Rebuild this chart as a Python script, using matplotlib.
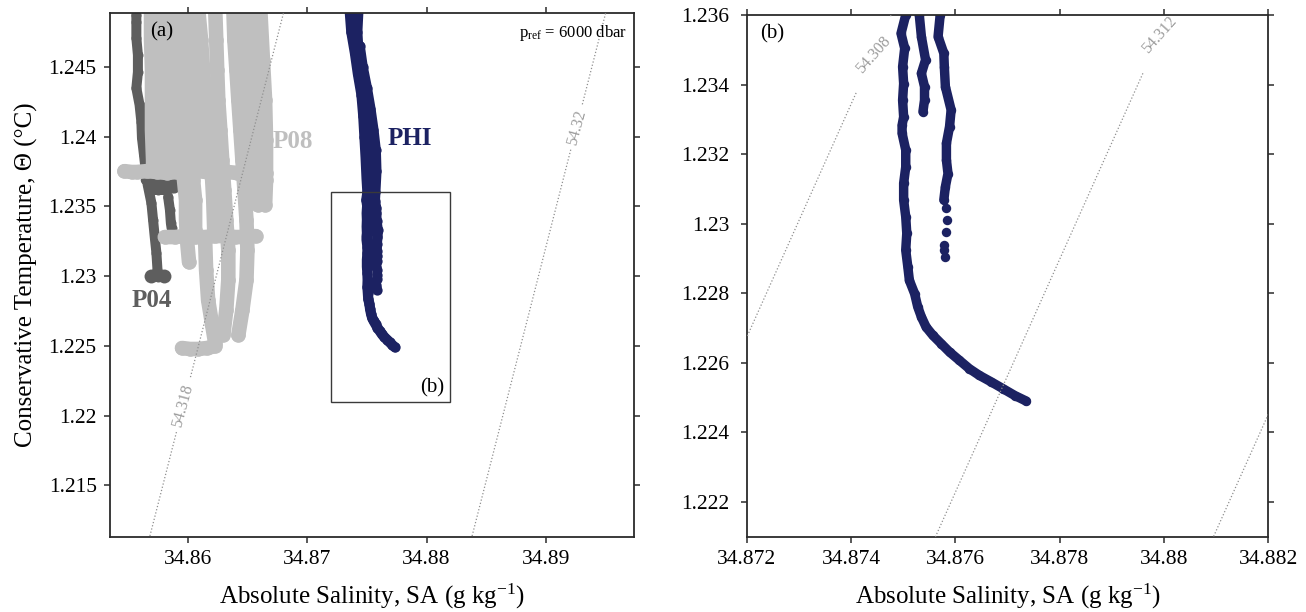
import numpy as np
import matplotlib
matplotlib.use('Agg')
import matplotlib.pyplot as plt
from matplotlib.patches import Rectangle
from matplotlib.ticker import FuncFormatter

plt.rcParams['font.family'] = ['Liberation Serif', 'DejaVu Serif']
plt.rcParams['mathtext.fontset'] = 'custom'
plt.rcParams['mathtext.rm'] = 'Liberation Serif'
plt.rcParams['mathtext.it'] = 'Liberation Serif:italic'
plt.rcParams['mathtext.bf'] = 'Liberation Serif:bold'

# ---------------- axis settings ----------------
A_XLIM = (34.85349, 34.89741)
A_YLIM = (1.21133, 1.24883)
A_XTICKS = [34.86, 34.87, 34.88, 34.89]
A_YTICKS = [1.215, 1.22, 1.225, 1.23, 1.235, 1.24, 1.245]
B_XLIM = (34.872, 34.882)
B_YLIM = (1.221, 1.236)
B_XTICKS = [34.872, 34.874, 34.876, 34.878, 34.88, 34.882]
B_YTICKS = [1.222, 1.224, 1.226, 1.228, 1.23, 1.232, 1.234, 1.236]

# ---------------- isopycnals (linearised sigma_6 around a reference point) ----------------
ISO_A_LEVELS = [54.318, 54.320]
ISO_A_REF = (54.318, 34.86484, 1.2382, 0.07413, 0.02213)   # sigma0, SA0, CT0, beta, alpha
ISO_A_LABEL_POS = [(34.85943, 1.22077), (34.89240, 1.24070)]
ISO_B_LEVELS = [54.308, 54.312, 54.316]
ISO_B_REF = (54.312, 34.87562, 1.2210, 0.7505, 0.2240)
ISO_B_LABEL_POS = [(34.87445, 1.2348), (34.87998, 1.23528)]

# ---------------- P04 (dark grey) ----------------
P04_A_SA = [34.85570, 34.85570, 34.85570, 34.85583, 34.85583, 34.85570, 34.85597, 34.85612, 34.85617,
            34.85634, 34.85648, 34.85665, 34.85696, 34.85710, 34.85724, 34.85738, 34.85747, 34.85749]
P04_A_CT = [1.24870, 1.24820, 1.24706, 1.24584, 1.24462, 1.24347, 1.24226, 1.24104, 1.23989,
            1.23867, 1.23760, 1.23653, 1.23524, 1.23402, 1.23280, 1.23165, 1.23044, 1.22994]
P04_B_SA = [34.85648, 34.85724, 34.85808, 34.85893, 34.85935]
P04_B_CT = [1.23688, 1.23688, 1.23688, 1.23681, 1.23667]
P04_C_SA = [34.85682, 34.85749, 34.85817, 34.85885]
P04_C_CT = [1.23617, 1.23617, 1.23617, 1.23631]
P04_D_SA = [34.85836, 34.85851, 34.85859, 34.85865]
P04_D_CT = [1.23567, 1.23474, 1.23380, 1.23344]
P04_E_SA = [34.85690, 34.85800]
P04_E_CT = [1.23001, 1.23001]

# ---------------- P08 (light grey) ----------------
P08_CT_TOP = [1.2492, 1.24691, 1.24476, 1.24261, 1.24047, 1.23832, 1.23775]
P08_C1_SA = [34.85693, 34.85693, 34.85701, 34.85701, 34.85701, 34.85710, 34.85710]
P08_C2_SA = [34.85751, 34.85751, 34.85760, 34.85760, 34.85768, 34.85776, 34.85776]
P08_C3_SA = [34.85810, 34.85810, 34.85818, 34.85818, 34.85827, 34.85835, 34.85843]
P08_C4_SA = [34.85869, 34.85869, 34.85877, 34.85885, 34.85894, 34.85902, 34.85910]
P08_C5_SA = [34.85876, 34.85893, 34.85901, 34.85918, 34.85935, 34.85952, 34.85969, 34.85986, 34.85986,
             34.85994, 34.86011]
P08_C5_CT = [1.2492, 1.24691, 1.24476, 1.24261, 1.24047, 1.23832, 1.23688, 1.23545, 1.23402, 1.23259, 1.23101]
P08_C6_SA = [34.85935, 34.85952, 34.85969, 34.85986, 34.86011, 34.86028, 34.86045, 34.86062, 34.86062]
P08_C6_CT = [1.2492, 1.24691, 1.24476, 1.24261, 1.24047, 1.23832, 1.23688, 1.23545, 1.23330]
P08_C7_SA = [34.85986, 34.86011, 34.86028, 34.86053, 34.86078, 34.86095]
P08_C7_CT = [1.2492, 1.24691, 1.24476, 1.24261, 1.24047, 1.23832]
P08_S2_SA = [34.86087, 34.86112, 34.86129, 34.86146, 34.86171, 34.86188, 34.86205, 34.86214, 34.86222]
P08_S2_CT = [1.2492, 1.24691, 1.24476, 1.24261, 1.24047, 1.23832, 1.23688, 1.23545, 1.23330]
P08_S3_SA = [34.86230, 34.86239, 34.86247, 34.86256, 34.86273, 34.86289, 34.86306, 34.86323, 34.86340,
             34.86340, 34.86323, 34.86298]
P08_S3_CT = [1.2492, 1.24691, 1.24476, 1.24261, 1.24047, 1.23832, 1.23617, 1.23402, 1.23187,
             1.22972, 1.22757, 1.22578]
P08_S4_SA = [34.86382, 34.86391, 34.86408, 34.86424, 34.86441, 34.86458, 34.86475, 34.86492, 34.86500,
             34.86492, 34.86458, 34.86424]
P08_S4_CT = [1.2492, 1.24691, 1.24476, 1.24261, 1.24047, 1.23832, 1.23617, 1.23402, 1.23187,
             1.22972, 1.22757, 1.22578]
P08_S5_SA = [34.86497, 34.86505, 34.86522, 34.86538, 34.86555, 34.86572, 34.86589, 34.86589]
P08_S5_CT = [1.2492, 1.24691, 1.24476, 1.24261, 1.24047, 1.23832, 1.23653, 1.23509]
P08_S6_SA = [34.86607, 34.86630, 34.86648, 34.86656, 34.86656, 34.86648]
P08_S6_CT = [1.2492, 1.24548, 1.24261, 1.23975, 1.23688, 1.23509]
P08_S7_SA = [34.86146, 34.86154, 34.86171, 34.86205, 34.86230]
P08_S7_CT = [1.23259, 1.23044, 1.22829, 1.22650, 1.22521]
P08_BAND1_SA = [34.85470, 34.85530, 34.85572, 34.85657, 34.85741, 34.85825, 34.85910, 34.85994,
                34.86078, 34.86163, 34.86247, 34.86332, 34.86416, 34.86500, 34.86585, 34.86655]
P08_BAND1_CT = [1.23752, 1.23746, 1.23746, 1.23752, 1.23746, 1.23739, 1.23746, 1.23746,
                1.23752, 1.23746, 1.23746, 1.23746, 1.23739, 1.23746, 1.23746, 1.23739]
P08_BAND2_SA = [34.85808, 34.85893, 34.85977, 34.86062, 34.86146, 34.86230, 34.86315, 34.86399,
                34.86484, 34.86568]
P08_BAND2_CT = [1.23280, 1.23280, 1.23287, 1.23280, 1.23280, 1.23287, 1.23287, 1.23280, 1.23280, 1.23287]
P08_BOTTOM_SA = [34.85952, 34.86019, 34.86087, 34.86163, 34.86230]
P08_BOTTOM_CT = [1.22485, 1.22478, 1.22478, 1.22485, 1.22499]

# ---------------- PHI (navy) ----------------
PHI1_SA = [34.87355, 34.87370, 34.87400, 34.87425, 34.87455, 34.87470, 34.87480, 34.87490, 34.87498,
           34.87505, 34.87496, 34.87503, 34.87499, 34.87501, 34.87499, 34.87501, 34.87498, 34.87498,
           34.87505, 34.87505, 34.87501, 34.87501, 34.87505, 34.87507, 34.87505, 34.87509, 34.87512,
           34.87522, 34.87528, 34.87535, 34.87544, 34.87557, 34.87573, 34.87589, 34.87608, 34.87627,
           34.87646, 34.87669, 34.87691, 34.87714, 34.87736]
PHI1_CT = [1.2492, 1.2475, 1.2460, 1.2445, 1.2430, 1.2415, 1.2400, 1.2385, 1.2370,
           1.23600, 1.23547, 1.23504, 1.23451, 1.23403, 1.23355, 1.23307, 1.23283, 1.23260,
           1.23212, 1.23163, 1.23116, 1.23068, 1.23020, 1.22972, 1.22924, 1.22876, 1.22837,
           1.22799, 1.22761, 1.22732, 1.22703, 1.22679, 1.22655, 1.22631, 1.22607, 1.22583,
           1.22564, 1.22545, 1.22526, 1.22506, 1.22490]
PHI2_SA = [34.87430, 34.87420, 34.87430, 34.87445, 34.87480, 34.87510, 34.87530, 34.87535, 34.87530,
           34.87531, 34.87535, 34.87543, 34.87535, 34.87541, 34.87541, 34.87538]
PHI2_CT = [1.2492, 1.2475, 1.2460, 1.2445, 1.2430, 1.2415, 1.2400, 1.2385, 1.2370,
           1.23600, 1.23538, 1.23471, 1.23432, 1.23394, 1.23355, 1.23322]
PHI3_SA = [34.87440, 34.87465, 34.87500, 34.87530, 34.87555, 34.87575, 34.87580, 34.87571, 34.87567,
           34.87578, 34.87579, 34.87581, 34.87592, 34.87589, 34.87583, 34.87583, 34.87586, 34.87581,
           34.87578]
PHI3_CT = [1.2465, 1.2450, 1.2435, 1.2420, 1.2405, 1.2390, 1.2375, 1.23600, 1.23538,
           1.23490, 1.23451, 1.23394, 1.23327, 1.23279, 1.23231, 1.23183, 1.23144, 1.23106,
           1.23068]
PHI3_TAIL_SA = [34.87583, 34.87584, 34.87583, 34.87579, 34.87579, 34.87581]
PHI3_TAIL_CT = [1.23044, 1.23010, 1.22976, 1.22938, 1.22924, 1.22904]

# ---------------- colours / text ----------------
C_P04 = '#5e5e5e'
C_P08 = '#bfbfbf'
C_PHI = '#1c2262'
C_ISO = '#8f8f8f'
C_SPINE = '#2b2b2b'
LABEL_P04 = ('P04', 34.85701, 1.22822)
LABEL_P08 = ('P08', 34.86882, 1.23968)
LABEL_PHI = ('PHI', 34.87857, 1.23989)
XLABEL = 'Absolute Salinity, SA (g kg$^{-1}$)'
YLABEL = 'Conservative Temperature, \u0398 (\u00b0C)'

fig = plt.figure(figsize=(13.06, 6.12), dpi=100)
axA = fig.add_axes([0.0842, 0.1230, 0.4016, 0.8553])
axB = fig.add_axes([0.5717, 0.1230, 0.3994, 0.8525])


def draw(ax, S, T, color, w, line=True):
    ax.plot(S, T, linestyle='-' if line else 'none', marker='o', color=color,
            ms=w, lw=w, mew=0, solid_capstyle='round', solid_joinstyle='round', zorder=2)


def isopycnals(ax, ref, levels, label_pos, xlim, ylim):
    s0, S0, T0, beta, alpha = ref
    Sg, Tg = np.meshgrid(np.linspace(xlim[0], xlim[1], 300), np.linspace(ylim[0], ylim[1], 300))
    sig = s0 + beta * (Sg - S0) - alpha * (Tg - T0)
    cs = ax.contour(Sg, Tg, sig, levels=levels, colors=C_ISO, linestyles=':', linewidths=0.9, zorder=3)
    ax.clabel(cs, fmt=lambda v: f'{v:g}', manual=label_pos, inline=True, inline_spacing=4,
              fontsize=11.5, colors='#9c9c9c')


def style(ax, xlim, ylim, xticks, yticks, ypad):
    ax.set_xlim(*xlim)
    ax.set_ylim(*ylim)
    ax.set_xticks(xticks)
    ax.set_yticks(yticks)
    fmt = FuncFormatter(lambda v, p: f'{v:g}')
    ax.xaxis.set_major_formatter(fmt)
    ax.yaxis.set_major_formatter(fmt)
    ax.tick_params(direction='out', length=4.5, width=1.1, labelsize=15.5, top=True, right=True,
                   colors=C_SPINE, labelcolor='black')
    ax.tick_params(axis='x', pad=5)
    ax.tick_params(axis='y', pad=ypad)
    for sp in ax.spines.values():
        sp.set_linewidth(1.3)
        sp.set_color(C_SPINE)
    ax.set_xlabel(XLABEL, fontsize=18, labelpad=9)


# ----- panel (a) -----
w04, w08, wphi = 7.2, 10.5, 7.4
for S, T in [(P04_A_SA, P04_A_CT), (P04_B_SA, P04_B_CT), (P04_C_SA, P04_C_CT), (P04_D_SA, P04_D_CT)]:
    draw(axA, S, T, C_P04, w04)
draw(axA, P04_E_SA, P04_E_CT, C_P04, 10.0, line=False)

for S in [P08_C1_SA, P08_C2_SA, P08_C3_SA, P08_C4_SA]:
    draw(axA, S, P08_CT_TOP, C_P08, w08)
for S, T in [(P08_C5_SA, P08_C5_CT), (P08_C6_SA, P08_C6_CT), (P08_C7_SA, P08_C7_CT),
             (P08_S2_SA, P08_S2_CT), (P08_S3_SA, P08_S3_CT), (P08_S4_SA, P08_S4_CT),
             (P08_S5_SA, P08_S5_CT), (P08_S6_SA, P08_S6_CT), (P08_S7_SA, P08_S7_CT),
             (P08_BAND1_SA, P08_BAND1_CT), (P08_BAND2_SA, P08_BAND2_CT),
             (P08_BOTTOM_SA, P08_BOTTOM_CT)]:
    draw(axA, S, T, C_P08, w08)

for S, T in [(PHI1_SA, PHI1_CT), (PHI2_SA, PHI2_CT), (PHI3_SA, PHI3_CT)]:
    draw(axA, S, T, C_PHI, wphi)
draw(axA, PHI3_TAIL_SA, PHI3_TAIL_CT, C_PHI, wphi, line=False)

isopycnals(axA, ISO_A_REF, ISO_A_LEVELS, ISO_A_LABEL_POS, A_XLIM, A_YLIM)
style(axA, A_XLIM, A_YLIM, A_XTICKS, A_YTICKS, 5)
axA.set_ylabel(YLABEL, fontsize=18, labelpad=8)

axA.add_patch(Rectangle((B_XLIM[0], B_YLIM[0]), B_XLIM[1] - B_XLIM[0], B_YLIM[1] - B_YLIM[0],
                        fill=False, ec='#3a3a3a', lw=1.0, zorder=4))
axA.text(34.8815, 1.2220, '(b)', ha='right', va='center', fontsize=15)
axA.text(0.076, 0.964, '(a)', transform=axA.transAxes, ha='left', va='center', fontsize=15)
axA.text(0.986, 0.962, r'p$_{\mathrm{ref}}$ = 6000 dbar', transform=axA.transAxes,
         ha='right', va='center', fontsize=12)
for (txt, x, y), c in [(LABEL_P04, C_P04), (LABEL_P08, C_P08), (LABEL_PHI, C_PHI)]:
    axA.text(x, y, txt, color=c, fontsize=18, fontweight='bold', ha='center', va='center')

# ----- panel (b) -----
wphi_b = 6.8
for S, T in [(PHI1_SA, PHI1_CT), (PHI2_SA, PHI2_CT), (PHI3_SA, PHI3_CT)]:
    draw(axB, S, T, C_PHI, wphi_b)
draw(axB, PHI3_TAIL_SA, PHI3_TAIL_CT, C_PHI, wphi_b, line=False)
isopycnals(axB, ISO_B_REF, ISO_B_LEVELS, ISO_B_LABEL_POS, B_XLIM, B_YLIM)
style(axB, B_XLIM, B_YLIM, B_XTICKS, B_YTICKS, 8)
axB.text(0.0255, 0.9636, '(b)', transform=axB.transAxes, ha='left', va='center', fontsize=15)

fig.savefig('out.png', dpi=100)
